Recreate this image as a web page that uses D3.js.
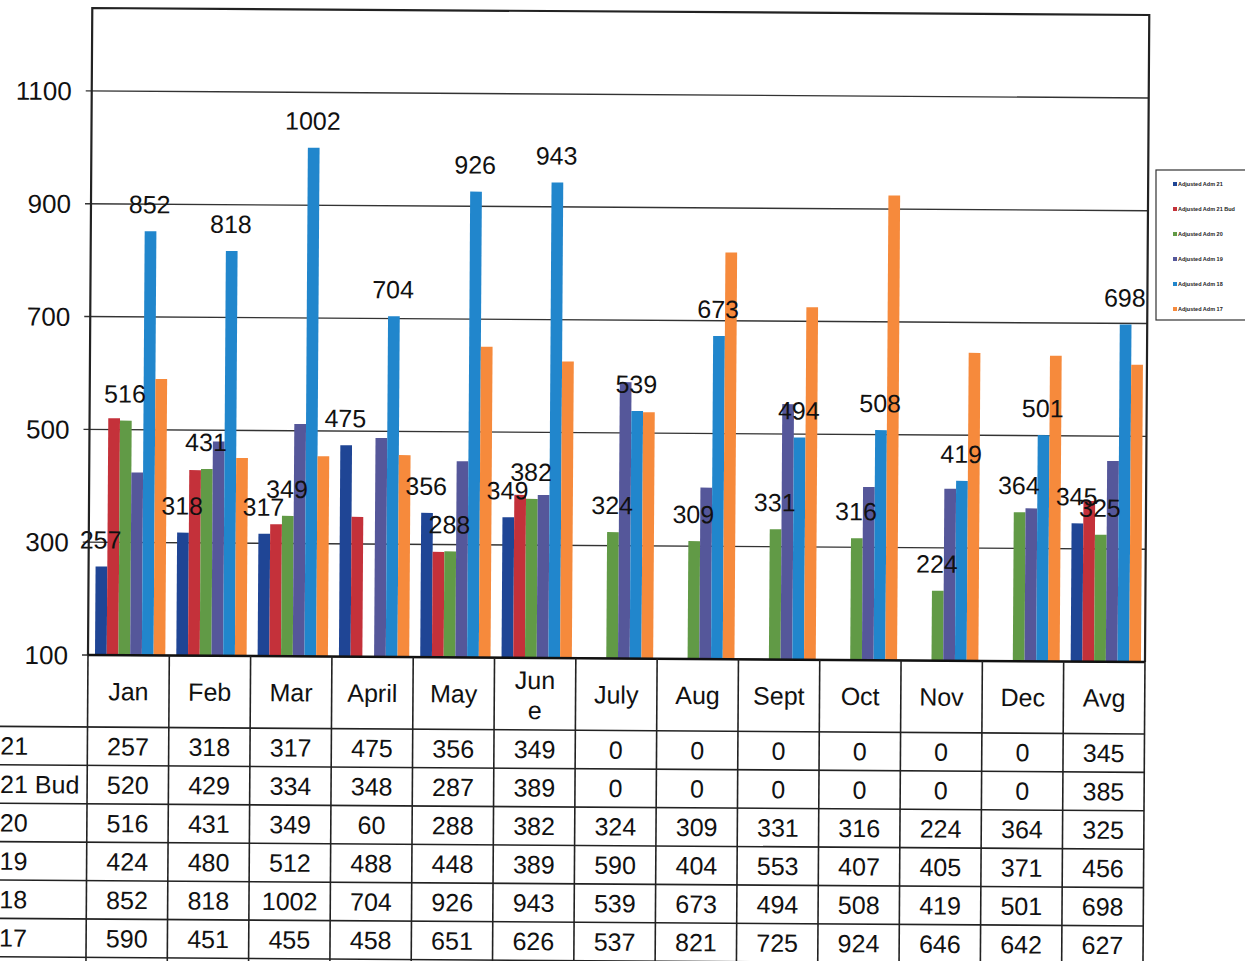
<!DOCTYPE html>
<html>
<head>
<meta charset="utf-8">
<script src="https://cdn.jsdelivr.net/npm/d3@7"></script>
<style>
  html, body { margin: 0; padding: 0; background: #fff; }
  svg { display: block; font-family: "Liberation Sans", Arial, sans-serif; }
</style>
</head>
<body>
<svg id="chart" width="1245" height="961"></svg>
<script>
// ---------- data ----------
const categories = ["Jan","Feb","Mar","April","May","June","July","Aug","Sept","Oct","Nov","Dec","Avg"];
const headerLabels = [["Jan"],["Feb"],["Mar"],["April"],["May"],["Jun","e"],["July"],["Aug"],["Sept"],["Oct"],["Nov"],["Dec"],["Avg"]];
const seriesNames = ["21","21 Bud","20","19","18","17"];
const legendNames = ["Adjusted Adm 21","Adjusted Adm 21 Bud","Adjusted Adm 20","Adjusted Adm 19","Adjusted Adm 18","Adjusted Adm 17"];
const s21    = [257,318,317,475,356,349,0,0,0,0,0,0,345];
const s21Bud = [520,429,334,348,287,389,0,0,0,0,0,0,385];
const s20    = [516,431,349,60,288,382,324,309,331,316,224,364,325];
const s19    = [424,480,512,488,448,389,590,404,553,407,405,371,456];
const s18    = [852,818,1002,704,926,943,539,673,494,508,419,501,698];
const s17    = [590,451,455,458,651,626,537,821,725,924,646,642,627];
const yTicks = [100,300,500,700,900,1100];
const labeledSeries = ["21","20","18"];

const seriesValues = [s21, s21Bud, s20, s19, s18, s17];
const colors = ["#1f4595","#c4313a","#619a46","#55579a","#2186cc","#f68a3c"];

// ---------- layout ----------
const svg = d3.select("#chart");
const pLeft = 88, pRight = 1145, pBase = 655, pTop = 8;
const g = svg.append("g").attr("transform", `rotate(0.38, ${pLeft}, ${pBase})`);

const x0 = d3.scaleBand().domain(categories).range([pLeft, pRight]).padding(0);
const x1 = d3.scaleBand().domain(seriesNames).range([7, x0.bandwidth() - 4]).padding(0);
const y = d3.scaleLinear().domain([100, 1247]).range([pBase, pTop]);

// gridlines
g.append("g").selectAll("line").data(yTicks).join("line")
  .attr("x1", pLeft - 6).attr("x2", pRight)
  .attr("y1", d => y(d)).attr("y2", d => y(d))
  .attr("stroke", "#333").attr("stroke-width", 1.4);

// axis labels
g.append("g").selectAll("text").data(yTicks).join("text")
  .attr("x", 68).attr("y", d => y(d)).attr("dy", "0.36em")
  .attr("text-anchor", "end").attr("font-size", 26).attr("fill", "#111")
  .text(d => d);

// bars
const groups = g.append("g").selectAll("g").data(categories).join("g")
  .attr("transform", d => `translate(${x0(d)},0)`);
groups.selectAll("rect")
  .data((c, i) => seriesNames.map((s, k) => ({s, k, v: seriesValues[k][i]})))
  .join("rect")
  .attr("x", d => x1(d.s))
  .attr("width", x1.bandwidth())
  .attr("y", d => y(Math.max(d.v, 100)))
  .attr("height", d => Math.max(0, pBase - y(Math.max(d.v, 100))))
  .attr("fill", d => colors[d.k]);

// data labels
const labelData = [];
categories.forEach((c, i) => {
  labeledSeries.forEach(s => {
    const k = seriesNames.indexOf(s);
    const v = seriesValues[k][i];
    if (v >= 100) labelData.push({c, s, v});
  });
});
g.append("g").selectAll("text").data(labelData).join("text")
  .attr("x", d => x0(d.c) + x1(d.s) + x1.bandwidth() / 2 - 1)
  .attr("y", d => y(d.v) - 18)
  .attr("text-anchor", "middle").attr("font-size", 25).attr("fill", "#111")
  .text(d => d.v);

// plot border
g.append("path")
  .attr("d", `M${pLeft},${pBase} V${pTop} H${pRight} V${pBase}`)
  .attr("fill", "none").attr("stroke", "#222").attr("stroke-width", 2.2);
g.append("line").attr("x1", pLeft).attr("x2", pRight).attr("y1", pBase).attr("y2", pBase)
  .attr("stroke", "#111").attr("stroke-width", 2.5);

// ---------- data table ----------
const headerBottom = 727, rowH = 38.4;
const tableBottom = 1000;
const tbl = g.append("g");
const colEdges = categories.map(c => x0(c)).concat([pRight]);
tbl.selectAll("line.v").data(colEdges).join("line").attr("class", "v")
  .attr("x1", d => d).attr("x2", d => d)
  .attr("y1", pBase).attr("y2", tableBottom)
  .attr("stroke", "#222").attr("stroke-width", 1.6);
tbl.append("line").attr("x1", 0).attr("x2", pRight)
  .attr("y1", headerBottom).attr("y2", headerBottom)
  .attr("stroke", "#222").attr("stroke-width", 1.6);
const rowLines = seriesNames.map((s, i) => headerBottom + rowH * (i + 1));
tbl.selectAll("line.h").data(rowLines).join("line").attr("class", "h")
  .attr("x1", 0).attr("x2", pRight)
  .attr("y1", d => d).attr("y2", d => d)
  .attr("stroke", "#222").attr("stroke-width", 1.6);
categories.forEach((c, i) => {
  const lines = headerLabels[i];
  const cx = x0(c) + x0.bandwidth() / 2;
  const t = tbl.append("text").attr("text-anchor", "middle").attr("font-size", 25).attr("fill", "#111");
  if (lines.length === 1) {
    t.append("tspan").attr("x", cx).attr("y", 691).attr("dy", "0.36em").text(lines[0]);
  } else {
    t.append("tspan").attr("x", cx).attr("y", 677).attr("dy", "0.36em").text(lines[0]);
    t.append("tspan").attr("x", cx).attr("y", 707).attr("dy", "0.36em").text(lines[1]);
  }
});
seriesNames.forEach((s, k) => {
  const cy = headerBottom + rowH * k + rowH / 2;
  tbl.append("text").attr("x", 1).attr("y", cy).attr("dy", "0.36em")
    .attr("font-size", 25).attr("fill", "#111").text(s);
  tbl.append("g").selectAll("text").data(seriesValues[k]).join("text")
    .attr("x", (d, i) => x0(categories[i]) + x0.bandwidth() / 2)
    .attr("y", cy).attr("dy", "0.36em")
    .attr("text-anchor", "middle").attr("font-size", 25).attr("fill", "#111")
    .text(d => d);
});

// ---------- legend ----------
const lg = svg.append("g");
lg.append("rect").attr("x", 1156).attr("y", 170).attr("width", 100).attr("height", 150)
  .attr("fill", "#fff").attr("stroke", "#333").attr("stroke-width", 1.2);
legendNames.forEach((n, k) => {
  const ly = 184 + k * 25;
  lg.append("rect").attr("x", 1173).attr("y", ly - 2).attr("width", 4).attr("height", 4)
    .attr("fill", colors[k]);
  lg.append("text").attr("x", 1178).attr("y", ly).attr("dy", "0.35em")
    .attr("font-size", 5.5).attr("font-weight", "bold").attr("fill", "#222").text(n);
});
</script>
</body>
</html>
